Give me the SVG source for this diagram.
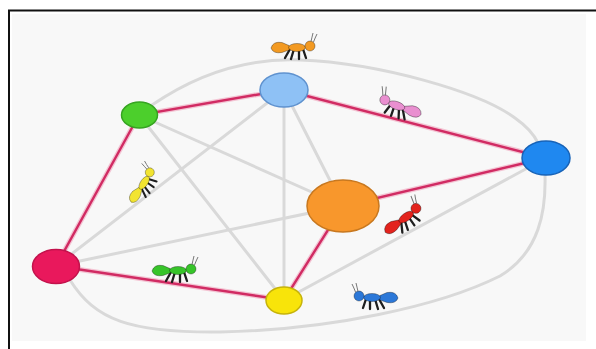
<svg xmlns="http://www.w3.org/2000/svg" xmlns:xlink="http://www.w3.org/1999/xlink" width="596" height="349" viewBox="0 0 596 349">
  <style>
    .frame { stroke: #111; stroke-width: 2; fill: none; }
    .gray { stroke: #d9d9d9; stroke-width: 3; fill: none; stroke-linecap: round; }
    .halo { stroke: #f3c4d3; stroke-width: 5; fill: none; stroke-linecap: round; }
    .pink { stroke: #d12b63; stroke-width: 2.4; fill: none; stroke-linecap: round; }
    .node { stroke-width: 1.5; }
    .leg { stroke: #1e1e1e; stroke-width: 2.3; stroke-linecap: round; fill: none; }
    .ant-body { stroke: rgba(0,0,0,0.4); stroke-width: 0.8; }
    .antenna { stroke: #777; stroke-width: 1; fill: none; }
  </style>
  <defs>
    <!-- cartoon ant, facing right; body colour comes from the <use> fill -->
    <symbol id="ant" overflow="visible">
      <path class="leg" d="M19 10 L14 19 M23 10 L20 20 M28 10 L28 20 M32 10 L35 19"/>
      <path class="ant-body" d="M0 9 Q2 2 11 3.5 L18 6.5 Q21 8.5 18 11 L11 13.5 Q2 15 0 9 Z"/>
      <ellipse class="ant-body" cx="26" cy="8.5" rx="8.5" ry="4"/>
      <circle class="ant-body" cx="39" cy="7" r="5"/>
      <path class="antenna" d="M40 2.5 Q41 -2 42 -6 M42.5 3 Q44 -1 46 -5"/>
    </symbol>
  </defs>

  <!-- page and picture panel -->
  <rect x="0" y="0" width="596" height="349" fill="#ffffff"/>
  <rect x="12" y="14" width="574" height="327" fill="#f8f8f8"/>
  <path class="frame" d="M9 349 L9 10.5 L596 10.5"/>

  <!-- connectors -->
  <g id="connectors">
    <!-- gray links -->
    <line class="gray" x1="56" y1="266" x2="284" y2="90"/>
    <line class="gray" x1="56" y1="266" x2="343" y2="206"/>
    <path class="gray" d="M70 280 C 95 320 130 333 220 332 C 330 330 440 306 500 276 C 540 252 546 210 545 175"/>
    <line class="gray" x1="139" y1="115" x2="284" y2="300"/>
    <line class="gray" x1="139" y1="115" x2="343" y2="206"/>
    <path class="gray" d="M152 105 C 200 72 250 58 300 60 C 380 63 480 92 515 118 Q 532 130 538 143"/>
    <line class="gray" x1="284" y1="90" x2="284" y2="300"/>
    <line class="gray" x1="284" y1="90" x2="343" y2="206"/>
    <line class="gray" x1="546" y1="158" x2="284" y2="300"/>
    <!-- highlighted tour -->
    <g>
      <path class="halo" d="M56 266 L139 115 L284 90 L546 158 L343 206 L284 300 Z"/>
      <path class="pink" d="M56 266 L139 115 L284 90 L546 158 L343 206 L284 300 Z"/>
    </g>
  </g>

  <!-- nodes -->
  <g id="node-lightblue"><ellipse class="node" cx="284" cy="90" rx="24" ry="17" fill="#8ec1f5" stroke="#5f92cf"/></g>
  <g id="node-green"><ellipse class="node" cx="139.5" cy="115" rx="18" ry="13" fill="#4ccf2c" stroke="#36a421"/></g>
  <g id="node-blue"><ellipse class="node" cx="546" cy="158" rx="24" ry="17" fill="#1f88f0" stroke="#1763b8"/></g>
  <g id="node-orange"><ellipse class="node" cx="343" cy="206" rx="36" ry="26" fill="#f8972c" stroke="#c8781f"/></g>
  <g id="node-crimson"><ellipse class="node" cx="56" cy="266.5" rx="23.5" ry="17" fill="#e9185c" stroke="#c3124c"/></g>
  <g id="node-yellow"><ellipse class="node" cx="284" cy="300.5" rx="18" ry="13.5" fill="#f8e40a" stroke="#c6b30a"/></g>

  <!-- ants -->
  <g id="ant-orange"><use xlink:href="#ant" href="#ant" fill="#f39a22" transform="translate(271 39)"/></g>
  <g id="ant-pink"><use xlink:href="#ant" href="#ant" fill="#e98fd0" transform="translate(424 106) rotate(19) scale(-1 1)"/></g>
  <g id="ant-yellow"><use xlink:href="#ant" href="#ant" fill="#f2e431" transform="translate(124.5 197.5) rotate(-55) scale(0.9)"/></g>
  <g id="ant-green"><use xlink:href="#ant" href="#ant" fill="#37c42a" transform="translate(152 262)"/></g>
  <g id="ant-red"><use xlink:href="#ant" href="#ant" fill="#e3231d" transform="translate(380 225) rotate(-35)"/></g>
  <g id="ant-blue"><use xlink:href="#ant" href="#ant" fill="#2c78d8" transform="translate(398 289) scale(-1 1)"/></g>
</svg>
